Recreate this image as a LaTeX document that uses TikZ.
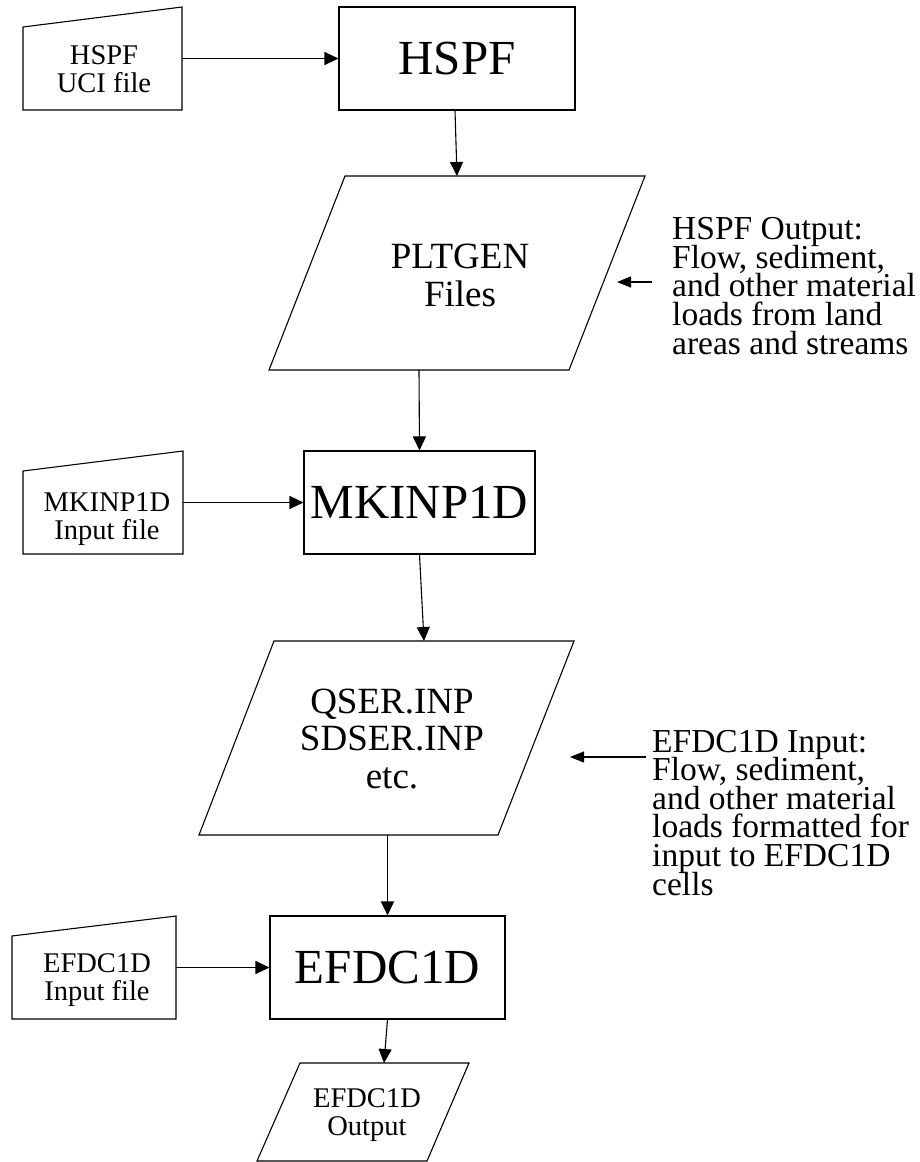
\documentclass[tikz,border=0pt]{standalone}
\usepackage{fontspec}
\setmainfont{Liberation Serif}
\usetikzlibrary{arrows.meta}
\begin{document}
\begin{tikzpicture}[x=1pt,y=-1pt,
  outline/.style={draw=black,line width=1.1pt,line join=miter},
  arr/.style={draw=black,line width=1.1pt,-{Triangle[length=14pt,width=13pt]}},
  notearr/.style={draw=black,line width=1.1pt,-{Triangle[length=14pt,width=11pt]}},
  bigbox/.style={draw=black,line width=1.1pt,inner sep=0pt,font=\fontsize{49}{52}\selectfont},
  midtext/.style={align=center,inner sep=0pt,font={\fontsize{37}{37.5}\selectfont\lineskiplimit=-100pt}},
  smalltext/.style={align=center,inner sep=0pt,font={\fontsize{28.5}{28.5}\selectfont\lineskiplimit=-100pt}},
  notetext/.style={align=left,inner sep=0pt,font={\fontsize{33.5}{28.6}\selectfont\lineskiplimit=-100pt}},
]
\useasboundingbox (0,0) rectangle (919,1162);

% ---- shapes drawn directly (manual inputs and data parallelograms)
\draw[outline] (23,27) -- (182,7) -- (182,110) -- (23,110) -- cycle;
\draw[outline] (345,176) -- (645,176) -- (569,370) -- (269,370) -- cycle;
\draw[outline] (23,471) -- (183,451) -- (183,554) -- (23,554) -- cycle;
\draw[outline] (274,641) -- (574,641) -- (498,835) -- (199,835) -- cycle;
\draw[outline] (12,936) -- (176,916) -- (176,1019) -- (12,1019) -- cycle;
\draw[outline] (300,1063) -- (469,1063) -- (427,1161) -- (257,1161) -- cycle;

% ---- process boxes
\node[bigbox, minimum width=236pt, minimum height=103pt] (hspf) at (457,58.5) {HSPF};
\node[bigbox, minimum width=231pt, minimum height=103pt] (mk) at (419.5,502.5) {MKINP1D};
\node[bigbox, minimum width=235pt, minimum height=103pt] (efdc) at (387.5,967.5) {EFDC1D};

% ---- texts of the other shapes
\node[smalltext] (uci) at (104,69) {HSPF\\UCI file};
\node[midtext] (plt) at (460,275.5) {PLTGEN\\Files};
\node[smalltext] (mkin) at (107,519) {MKINP1D\\Input file};
\node[midtext] (qser) at (392,739) {QSER.INP\\SDSER.INP\\etc.};
\node[smalltext] (efin) at (97,980) {EFDC1D\\Input file};
\node[smalltext] (out) at (367,1115) {EFDC1D\\Output};

% ---- notes (anchor = baseline of the last line)
\node[notetext, anchor=base west] (note1) at (672,354) {HSPF Output:\\Flow, sediment,\\and other material\\loads from land\\areas and streams};
\node[notetext, anchor=base west] (note2) at (652,895) {EFDC1D Input:\\Flow, sediment,\\and other material\\loads formatted for\\input to EFDC1D\\cells};

% ---- connection points
\coordinate (uciR) at (182,58.5);
\coordinate (pltT) at (457,176);
\coordinate (pltB) at (419,370);
\coordinate (mkinR) at (183,502.5);
\coordinate (qT) at (424,641);
\coordinate (qB) at (387.5,835);
\coordinate (efinR) at (176,967.5);
\coordinate (outT) at (384,1063);
\coordinate (n1tail) at (652,282);
\coordinate (n1tip) at (617,282);
\coordinate (n2tail) at (646,757);
\coordinate (n2tip) at (570,757);

% ---- connectors
\draw[arr] (uciR) -- (hspf.west);
\draw[arr] ([xshift=-2pt]hspf.south) -- (pltT);
\draw[arr] (pltB) -- (mk.north);
\draw[arr] (mkinR) -- (mk.west);
\draw[arr] (mk.south) -- (qT);
\draw[arr] (qB) -- (efdc.north);
\draw[arr] (efinR) -- (efdc.west);
\draw[arr] (efdc.south) -- (outT);
\draw[notearr] (n1tail) -- (n1tip);
\draw[notearr] (n2tail) -- (n2tip);
\end{tikzpicture}
\end{document}
